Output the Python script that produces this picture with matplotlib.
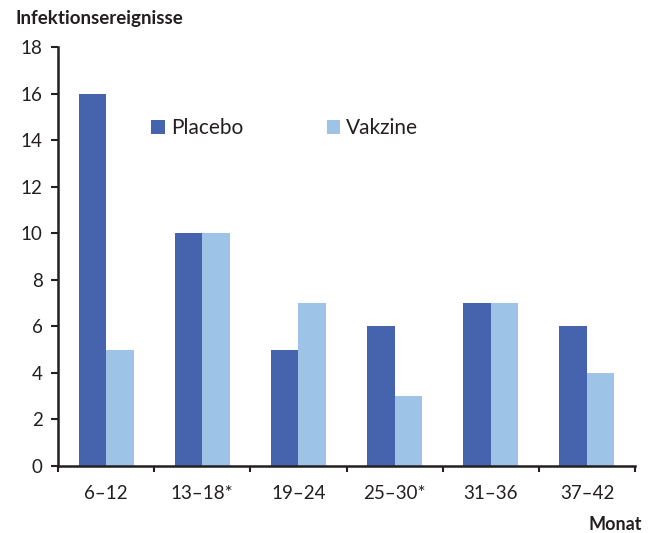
import numpy as np
import matplotlib.pyplot as plt
from matplotlib.ticker import FixedLocator

# Data
months = ['6–12', '13–18*', '19–24', '25–30*', '31–36', '37–42']
placebo = [16, 10, 5, 6, 7, 6]
vakzine = [5, 10, 7, 3, 7, 4]

dark_blue = '#4664AE'
light_blue = '#9DC3E6'
axis_col = '#231F20'

plt.rcParams['font.family'] = ['Lato', 'DejaVu Sans']
plt.rcParams['text.color'] = '#231F20'

fig = plt.figure(figsize=(6.54, 5.33), dpi=100)
ax = fig.add_axes([0.0887, 0.1257, 0.8823, 0.7861])

x = np.arange(len(months))
w = 0.286
ax.bar(x - w / 2, placebo, width=w, color=dark_blue, label='Placebo')
ax.bar(x + w / 2, vakzine, width=w, color=light_blue, label='Vakzine')

ax.set_xlim(-0.5, len(months) - 0.5)
ax.set_ylim(0, 18)
ax.set_yticks(np.arange(0, 19, 2))

# ticks between the groups, labels at group centres
ax.xaxis.set_major_locator(FixedLocator(np.arange(-0.5, len(months), 1.0)))
ax.xaxis.set_major_formatter(plt.NullFormatter())
ax.set_xticks(x, minor=True)
ax.set_xticklabels(months, minor=True)
ax.tick_params(axis='x', which='major', length=4.5, width=1.5, color=axis_col, direction='out')
ax.tick_params(axis='x', which='minor', length=0, pad=14, labelsize=13.5, labelcolor='#231F20')
ax.tick_params(axis='y', length=5, width=1.5, color=axis_col, direction='out', pad=6,
               labelsize=13.5, labelcolor='#231F20')

for side in ['top', 'right']:
    ax.spines[side].set_visible(False)
for side in ['left', 'bottom']:
    ax.spines[side].set_linewidth(1.8)
    ax.spines[side].set_color(axis_col)

ax.legend(loc='upper left', bbox_to_anchor=(0.147, 0.85), ncol=2, frameon=False,
          fontsize=15, handlelength=0.65, handleheight=0.65, handletextpad=0.3,
          columnspacing=4.0, borderaxespad=0)

fig.text(0.023, 0.955, 'Infektionsereignisse', fontsize=13.5, fontweight='bold',
         ha='left', va='baseline')
fig.text(0.982, 0.006, 'Monat', fontsize=13, fontweight='bold', ha='right', va='baseline')

fig.savefig('out.png', dpi=100)
